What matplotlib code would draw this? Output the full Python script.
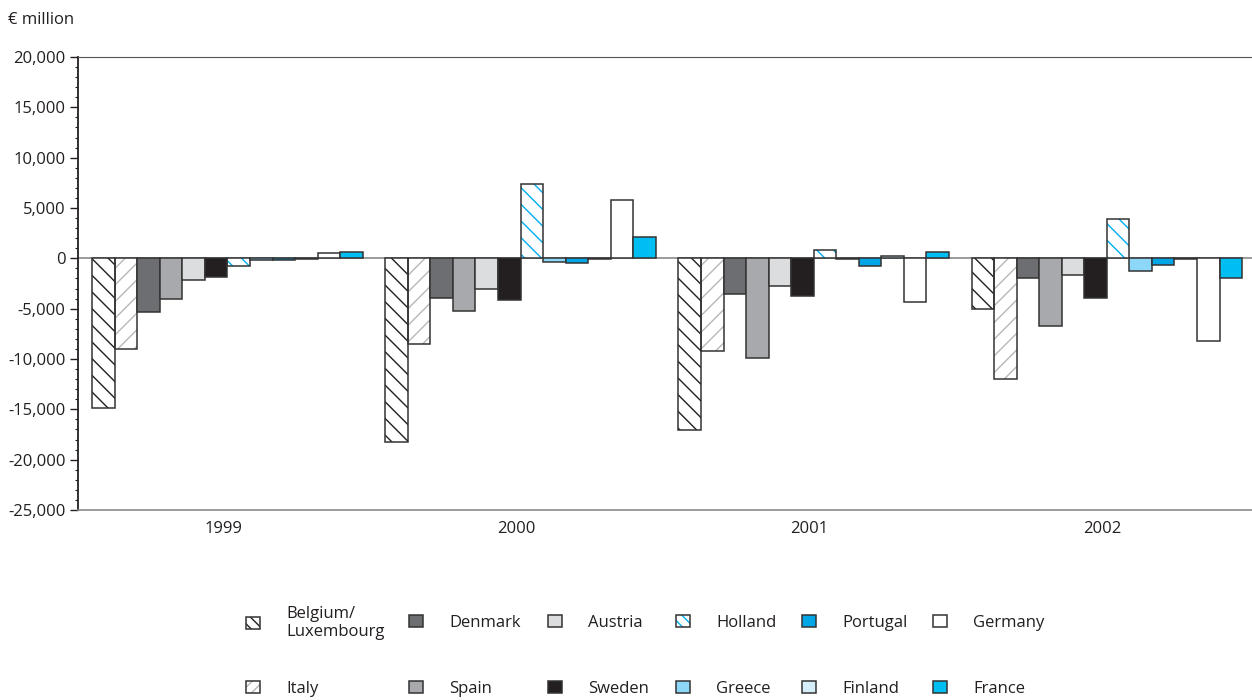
import matplotlib
matplotlib.use("Agg")
import matplotlib.pyplot as plt
from matplotlib.patches import Patch
from matplotlib.legend_handler import HandlerTuple
from matplotlib.ticker import MultipleLocator, FuncFormatter

plt.rcParams['font.family'] = ['Open Sans', 'DejaVu Sans']
plt.rcParams['hatch.linewidth'] = 1.0

years = ["1999", "2000", "2001", "2002"]
countries = ["Belgium/\nLuxembourg", "Italy", "Denmark", "Spain", "Austria", "Sweden",
             "Holland", "Greece", "Portugal", "Finland", "Germany", "France"]

# € million, one list per country (1999..2002)
belgium = [-14900, -18200, -17100, -5000]
italy = [-9000, -8500, -9200, -12000]
denmark = [-5300, -3900, -3500, -2000]
spain = [-4000, -5200, -9900, -6700]
austria = [-2200, -3000, -2700, -1700]
sweden = [-1900, -4100, -3700, -3900]
holland = [-800, 7400, 800, 3900]
greece = [-200, -400, -100, -1300]
portugal = [-150, -450, -800, -700]
finland = [-100, -50, 250, -100]
germany = [550, 5800, -4300, -8200]
france = [600, 2100, 600, -2000]
series = [belgium, italy, denmark, spain, austria, sweden,
          holland, greece, portugal, finland, germany, france]

# face colour, hatch, hatch colour
styles = [("white", "\\\\", "#231f20"), ("white", "//", "#b5b7ba"),
          ("#6d6e71", None, None), ("#a7a9ac", None, None),
          ("#dcddde", None, None), ("#231f20", None, None),
          ("white", "\\\\", "#00aeef"), ("#8dd8f8", None, None),
          ("#00a6e6", None, None), ("#d6eef9", None, None),
          ("white", None, None), ("#00bdf2", None, None)]
edge = "#333333"
txt = "#231f20"

fig = plt.figure(figsize=(12.52, 7.0), dpi=100)
ax = fig.add_axes([78 / 1252, 1 - 510 / 700, (1252 - 78) / 1252, (510 - 57) / 700])

pitch = 13
handles = []
for i, (vals, (fc, h, hc)) in enumerate(zip(series, styles)):
    xs = [g * pitch + i for g in range(len(years))]
    if h:
        ax.bar(xs, vals, 1, align='edge', color=fc, edgecolor=hc, hatch=h, linewidth=0, zorder=2)
        ax.bar(xs, vals, 1, align='edge', fill=False, edgecolor=edge, linewidth=1.1, zorder=3)
        # legend squares are small, so a denser hatch keeps a line visible
        handles.append((Patch(facecolor=fc, edgecolor=hc, hatch=h + h[0], linewidth=0),
                        Patch(facecolor='none', edgecolor=edge, linewidth=1.1)))
    else:
        ax.bar(xs, vals, 1, align='edge', color=fc, edgecolor=edge, linewidth=1.1, zorder=3)
        handles.append(Patch(facecolor=fc, edgecolor=edge, linewidth=1.1))

ax.axhline(0, color="#8a8a8a", linewidth=1.2, zorder=1)

ax.set_xlim(-0.63, 3 * pitch + 12 + 0.44)
ax.set_ylim(-25000, 20000)
ax.yaxis.set_major_locator(MultipleLocator(5000))
ax.yaxis.set_minor_locator(MultipleLocator(1000))
ax.yaxis.set_major_formatter(FuncFormatter(lambda v, p: f"{v:,.0f}"))
ax.tick_params(axis='y', which='major', length=6, width=1, color=txt, labelsize=12,
               labelcolor=txt, pad=3)
ax.tick_params(axis='y', which='minor', length=2, width=0.8, color=txt)
ax.set_xticks([g * pitch + 5.8 for g in range(len(years))])
ax.set_xticklabels(years)
ax.tick_params(axis='x', length=0, labelsize=12, labelcolor=txt, pad=8)

ax.spines['right'].set_visible(False)
ax.spines['left'].set_color(txt)
ax.spines['left'].set_linewidth(1.3)
ax.spines['top'].set_color("#555555")
ax.spines['bottom'].set_color("#8a8a8a")
ax.spines['bottom'].set_linewidth(1.2)

fig.text(8 / 1252, 1 - 20 / 700, "€ million", fontsize=12, color=txt, va='center', ha='left')

# legend: 6 columns x 2 rows, one small legend per entry so rows line up
col_x = [246, 409, 548, 676, 802, 933]
row_y = [623, 689]
for k, (hd, lab) in enumerate(zip(handles, countries)):
    col, row = k // 2, k % 2
    fig.legend([hd], [lab], frameon=False, fontsize=12, loc='center left',
               bbox_to_anchor=(col_x[col] / 1252, 1 - row_y[row] / 700),
               borderpad=0, borderaxespad=0, handlelength=0.85, handleheight=0.75,
               handletextpad=1.55, labelcolor=txt,
               handler_map={tuple: HandlerTuple(ndivide=1)})

fig.savefig("out.png", dpi=100)
